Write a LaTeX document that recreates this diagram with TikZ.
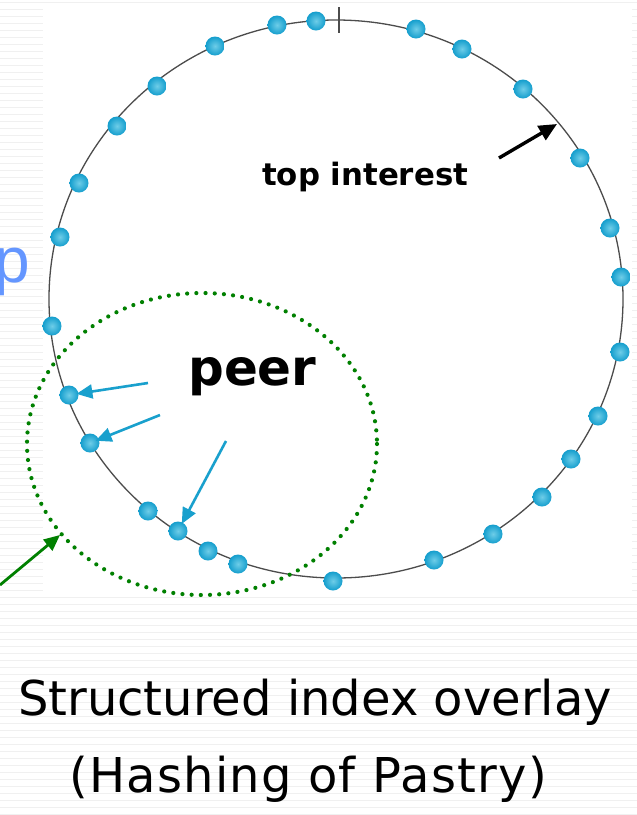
\documentclass[tikz,border=0pt]{standalone}
\usepackage{fontspec}
\newfontfamily\dvs{DejaVu Sans}
\newfontfamily\dvsw[LetterSpace=2.6]{DejaVu Sans}
\newfontfamily\lib{Liberation Sans}
\usetikzlibrary{arrows.meta}
\definecolor{nodecyan}{RGB}{20,158,205}
\definecolor{nodelight}{RGB}{110,205,232}
\definecolor{arrowblue}{RGB}{25,160,205}
\definecolor{pblue}{RGB}{100,150,255}
\definecolor{dgreen}{RGB}{0,128,0}
\definecolor{stripe}{RGB}{240,240,240}
\tikzset{
  peernode/.style={circle, minimum size=19pt, inner sep=0pt, inner color=nodelight, outer color=nodecyan},
  ring/.style={line width=1.3pt, draw=black!70},
  bluearrow/.style={draw=arrowblue, line width=2.6pt, -{Triangle[length=16pt,width=14pt]}},
  blackarrow/.style={draw=black, line width=3.4pt, -{Triangle[length=18pt,width=16pt]}},
  greenarrow/.style={draw=dgreen, line width=2.8pt, -{Triangle[length=16pt,width=14pt]}},
  rangecircle/.style={draw=dgreen, line width=4.2pt, line cap=round, dash pattern=on 0pt off 9.2pt},
  boldlabel/.style={inner sep=0pt, anchor=base west, text=black, font=\dvs\bfseries},
  caption/.style={inner sep=0pt, anchor=base, text=black, font=\dvs\fontsize{48}{56}\selectfont}
}
\begin{document}
\begin{tikzpicture}[x=1pt,y=-1pt]
\useasboundingbox (0,0) rectangle (637,815);
% slide background stripes
\foreach \yy in {2,9,...,815} \draw[stripe, line width=1pt] (0,\yy) -- (637,\yy);
\fill[white] (43,6) rectangle (632,596);
% ring
\draw[ring] (336,299) ellipse [x radius=287, y radius=279];
\draw[ring] (339,7) -- (339,33);
% peers on the ring
\foreach \i/\px/\py in {1/316/21, 2/277/25, 3/215/46, 4/157/86, 5/117/126, 6/79/183, 7/60/237,
  8/52/326, 9/69/395, 10/90/443, 11/148/511, 12/178/531, 13/208/551, 14/238/564,
  15/333/581, 16/434/560, 17/493/534, 18/542/497, 19/571/459, 20/598/416, 21/620/352,
  22/621/277, 23/610/228, 24/580/158, 25/523/89, 26/462/49, 27/416/29}
  \node[peernode] (n\i) at (\px,\py) {};
% green dotted range
\draw[rangecircle] (202,444) ellipse [x radius=175, y radius=151];
% labels
\node[boldlabel, font=\dvs\bfseries\fontsize{30.8}{36}\selectfont] (top) at (262,185) {top interest};
\node[boldlabel, font=\dvs\bfseries\fontsize{50}{58}\selectfont] (peer) at (188,385) {peer};
\node[inner sep=0pt, anchor=base east, text=pblue, font=\lib\fontsize{64}{72}\selectfont] (pp) at (30,282) {p};
\node[caption] (cap1) at (315,715) {Structured index overlay};
\node[caption, font=\dvsw\fontsize{48}{56}\selectfont] (cap2) at (308,792) {(Hashing of Pastry)};
% arrows
\coordinate (ts) at (499,158);
\coordinate (tt) at (557,124);
\draw[blackarrow] (ts) -- (tt);
\coordinate (b1) at (148,383);
\coordinate (b2) at (160,415);
\coordinate (b3) at (226,441);
\draw[bluearrow, shorten >=7.5pt] (b1) -- (n9.center);
\draw[bluearrow, shorten >=6pt] (b2) -- (n10.center);
\draw[bluearrow, shorten >=8pt] (b3) -- (n12.center);
\coordinate (gs) at (0,585);
\coordinate (gt) at (60,535);
\draw[greenarrow] (gs) -- (gt);
\end{tikzpicture}
\end{document}
